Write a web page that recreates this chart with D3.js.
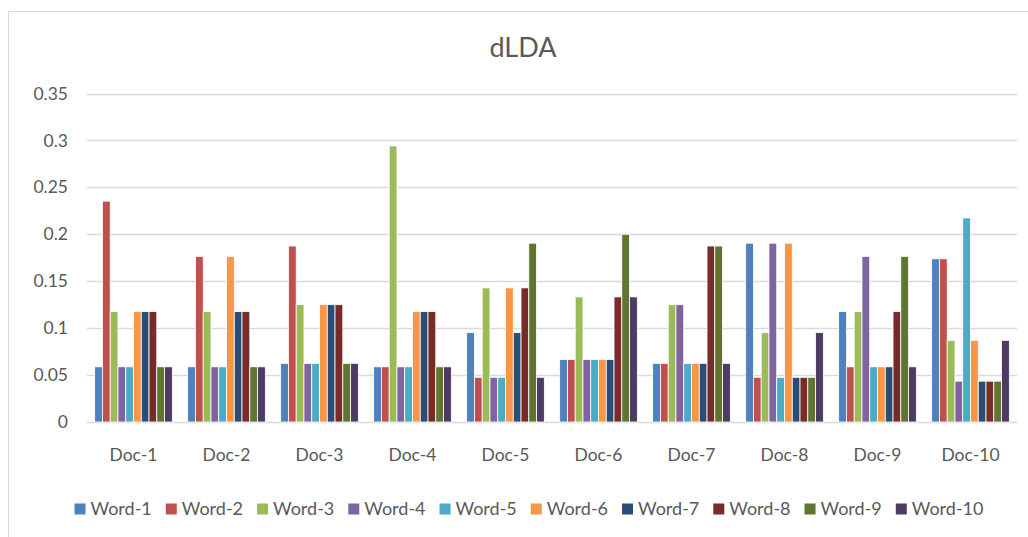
<!DOCTYPE html>
<html>
<head>
<meta charset="utf-8">
<script src="https://cdn.jsdelivr.net/npm/d3@7"></script>
<style>
  html, body { margin: 0; padding: 0; background: #fff; }
  svg { display: block; font-family: Lato, "Open Sans", sans-serif; }
</style>
</head>
<body>
<svg id="chart" width="1028" height="537"></svg>
<script>
// Documents on the category axis
const docs = ["Doc-1", "Doc-2", "Doc-3", "Doc-4", "Doc-5", "Doc-6", "Doc-7", "Doc-8", "Doc-9", "Doc-10"];
// Words (one series each)
const words = ["Word-1", "Word-2", "Word-3", "Word-4", "Word-5", "Word-6", "Word-7", "Word-8", "Word-9", "Word-10"];
// Word weights per document, in word order
const doc1 = [0.0588, 0.2353, 0.1176, 0.0588, 0.0588, 0.1176, 0.1176, 0.1176, 0.0588, 0.0588];
const doc2 = [0.0588, 0.1765, 0.1176, 0.0588, 0.0588, 0.1765, 0.1176, 0.1176, 0.0588, 0.0588];
const doc3 = [0.0625, 0.1875, 0.1250, 0.0625, 0.0625, 0.1250, 0.1250, 0.1250, 0.0625, 0.0625];
const doc4 = [0.0588, 0.0588, 0.2941, 0.0588, 0.0588, 0.1176, 0.1176, 0.1176, 0.0588, 0.0588];
const doc5 = [0.0952, 0.0476, 0.1429, 0.0476, 0.0476, 0.1429, 0.0952, 0.1429, 0.1905, 0.0476];
const doc6 = [0.0667, 0.0667, 0.1333, 0.0667, 0.0667, 0.0667, 0.0667, 0.1333, 0.2000, 0.1333];
const doc7 = [0.0625, 0.0625, 0.1250, 0.1250, 0.0625, 0.0625, 0.0625, 0.1875, 0.1875, 0.0625];
const doc8 = [0.1905, 0.0476, 0.0952, 0.1905, 0.0476, 0.1905, 0.0476, 0.0476, 0.0476, 0.0952];
const doc9 = [0.1176, 0.0588, 0.1176, 0.1765, 0.0588, 0.0588, 0.0588, 0.1176, 0.1765, 0.0588];
const doc10 = [0.1739, 0.1739, 0.0870, 0.0435, 0.2174, 0.0870, 0.0435, 0.0435, 0.0435, 0.0870];
// Value-axis ticks
const yTicks = [0, 0.05, 0.1, 0.15, 0.2, 0.25, 0.3, 0.35];
// Series colours
const colors = ["#4F81BD", "#C0504D", "#9BBB59", "#8064A2", "#4BACC6", "#F79646", "#2C4D75", "#772C2A", "#5F7530", "#4D3B62"];

const docValues = [doc1, doc2, doc3, doc4, doc5, doc6, doc7, doc8, doc9, doc10];
const rows = docs.map((d, i) => ({ doc: d, values: words.map((w, j) => ({ word: w, value: docValues[i][j] })) }));

const svg = d3.select("#chart");
const textColor = "#595959";
const gridColor = "#D9D9D9";

// chart frame
svg.append("rect")
  .attr("x", 8.5).attr("y", 11.5)
  .attr("width", 1040).attr("height", 560)
  .attr("fill", "#fff").attr("stroke", "#D9D9D9").attr("stroke-width", 1);

const plot = { left: 87, right: 1017, top: 93.5, bottom: 422 };

const x = d3.scaleBand().domain(docs).range([plot.left, plot.right]).paddingInner(0.165).paddingOuter(0.0825);
const xi = d3.scaleBand().domain(words).range([0, x.bandwidth()]);
const y = d3.scaleLinear().domain([0, 0.35]).range([plot.bottom, plot.top]);

// title
svg.append("text")
  .attr("x", 523).attr("y", 57)
  .attr("text-anchor", "middle")
  .attr("font-size", 27)
  .attr("fill", textColor)
  .text("dLDA");

// gridlines
svg.append("g")
  .selectAll("line")
  .data(yTicks)
  .join("line")
  .attr("x1", plot.left).attr("x2", plot.right)
  .attr("y1", d => Math.round(y(d)) + 0.5).attr("y2", d => Math.round(y(d)) + 0.5)
  .attr("stroke", gridColor).attr("stroke-width", 1.3);

// y axis labels
const yAxis = d3.axisLeft(y).tickValues(yTicks).tickSize(0).tickPadding(0).tickFormat(d => String(d));
const gy = svg.append("g").attr("transform", `translate(68,0)`).call(yAxis);
gy.select(".domain").remove();
gy.selectAll("text").attr("font-size", 17.5).attr("fill", textColor).attr("font-family", "Lato, sans-serif");

// x axis labels
const xAxis = d3.axisBottom(x).tickSize(0).tickPadding(0);
const gx = svg.append("g").attr("transform", `translate(0,${plot.bottom + 27})`).call(xAxis);
gx.select(".domain").remove();
gx.selectAll("text").attr("font-size", 17.5).attr("fill", textColor).attr("font-family", "Lato, sans-serif");

// bars
const groups = svg.append("g")
  .selectAll("g")
  .data(rows)
  .join("g")
  .attr("transform", d => `translate(${x(d.doc)},0)`);

groups.selectAll("rect")
  .data(d => d.values)
  .join("rect")
  .attr("x", d => xi(d.word))
  .attr("y", d => y(d.value))
  .attr("width", xi.bandwidth())
  .attr("height", d => y(0) - y(d.value))
  .attr("fill", (d, j) => colors[j])
  .attr("stroke", "#fff")
  .attr("stroke-width", 0.8);

// legend
const legend = svg.append("g").attr("font-size", 18).attr("fill", textColor);
const items = legend.selectAll("g").data(words).join("g");
items.append("rect")
  .attr("width", 11).attr("height", 11)
  .attr("y", -5.5)
  .attr("fill", (d, i) => colors[i]);
items.append("text")
  .attr("x", 16).attr("dy", "0.35em")
  .text(d => d);
let cx = 0;
const gap = 14;
const pos = [];
items.each(function () {
  const w = this.getBBox().width;
  pos.push(cx);
  cx += w + gap;
});
const total = cx - gap;
const start = 529 - total / 2;
items.attr("transform", (d, i) => `translate(${start + pos[i]},509)`);
</script>
</body>
</html>
